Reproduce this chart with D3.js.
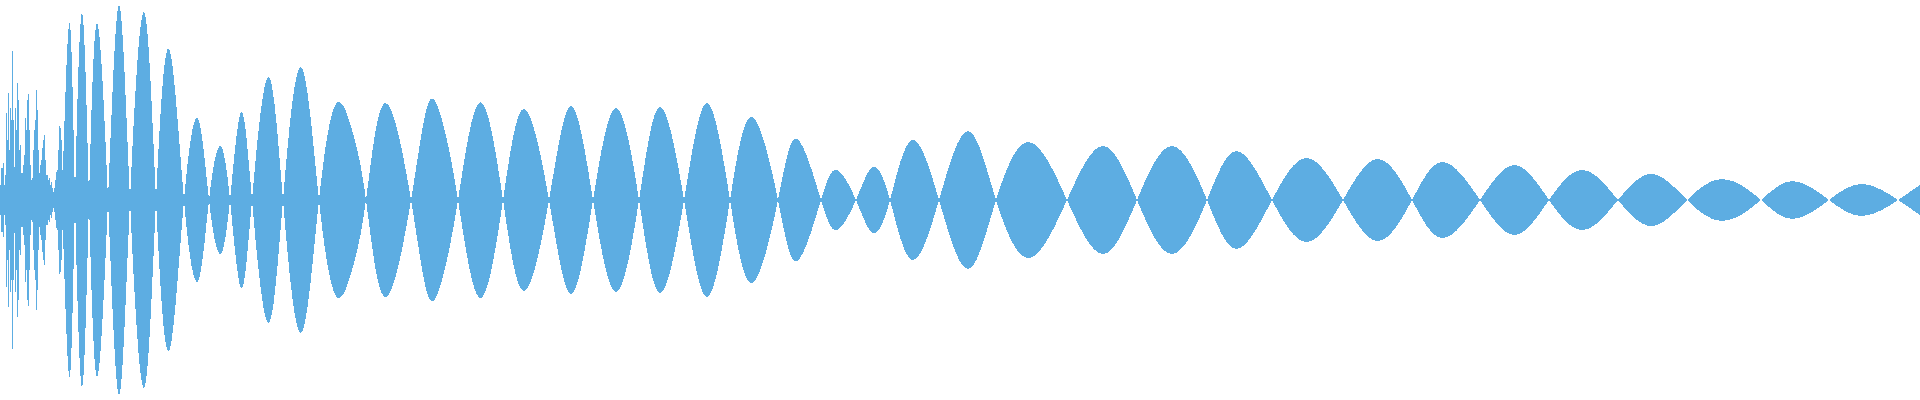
<!DOCTYPE html>
<html>
<head>
<meta charset="utf-8">
<script src="https://cdn.jsdelivr.net/npm/d3@7"></script>
<style>
  html, body { margin: 0; padding: 0; background: #ffffff; }
  svg { display: block; }
</style>
</head>
<body>
<svg id="chart" width="1920" height="400"></svg>
<script>
// Onset: per-sample amplitude (time 0..63)
const onsetAmp = [0.075, 0.16, 0.16, 0.185, 0.075, 0.125, 0.435, 0.30, 0.535, 0.25, 0.46, 0.40, 0.745, 0.40, 0.165, 0.46, 0.35, 0.585, 0.50, 0.25, 0.275, 0.135, 0.135, 0.175, 0.225, 0.41, 0.35, 0.50, 0.53, 0.35, 0.175, 0.10, 0.11, 0.25, 0.35, 0.40, 0.55, 0.45, 0.25, 0.135, 0.175, 0.20, 0.26, 0.30, 0.325, 0.20, 0.125, 0.125, 0.10, 0.11, 0.075, 0.09, 0.06, 0.04, 0.06, 0.10, 0.14, 0.15, 0.25, 0.37, 0.36, 0.30, 0.15, 0.05];

// Envelope lobes: zero crossings, peak times and peak amplitudes
const zeroTimes = [62, 75, 89, 108, 130, 156, 184, 209, 230, 252, 283, 319, 366, 411, 458, 503, 549, 593, 639, 684, 730, 778, 821, 856, 890, 939, 996, 1067, 1137, 1207, 1272, 1343, 1412, 1480, 1549, 1618, 1687, 1761, 1829, 1898];
const peakTimes = [69.5, 82, 97, 119, 144, 169, 198, 220, 241, 268, 301, 336, 385, 428, 480, 524, 571, 616, 660, 707, 752, 797, 837, 873, 912, 968, 1029, 1103, 1172, 1237, 1307, 1378, 1443, 1515, 1583, 1652, 1723, 1793, 1863];
const peakAmps = [0.885, 0.935, 0.885, 0.975, 0.94, 0.755, 0.405, 0.27, 0.44, 0.615, 0.665, 0.48, 0.485, 0.48, 0.49, 0.455, 0.47, 0.46, 0.465, 0.485, 0.415, 0.305, 0.15, 0.165, 0.30, 0.345, 0.29, 0.27, 0.27, 0.245, 0.21, 0.205, 0.19, 0.175, 0.15, 0.13, 0.105, 0.095, 0.08];

// Extra shape points inside irregular lobes
const shoulderTimes = [352, 442];
const shoulderAmps = [0.35, 0.40];

// Tail sample at the right edge
const tailTimes = [1920];
const tailAmps = [0.075];

const width = 1920, height = 400;
const svg = d3.select("#chart");

const x = d3.scaleLinear().domain([0, 1920]).range([0, width]);
const y = d3.scaleLinear().domain([-1, 1]).range([height, 0]);

const fill = "#5dade2";

// Onset section
const onsetData = onsetAmp.map((a, i) => ({ t: i, a }));
const onsetArea = d3.area()
  .x(d => x(d.t))
  .y0(d => y(-d.a))
  .y1(d => y(d.a))
  .curve(d3.curveStepAfter);

svg.append("path")
  .datum(onsetData)
  .attr("d", onsetArea)
  .attr("fill", fill)
  .attr("shape-rendering", "crispEdges");

// Envelope section: signed alternating lobes so crossings form an X
const pts = [];
zeroTimes.forEach(t => pts.push({ t, a: 0 }));
peakTimes.forEach((t, i) => pts.push({ t, a: peakAmps[i] }));
shoulderTimes.forEach((t, i) => pts.push({ t, a: shoulderAmps[i] }));
tailTimes.forEach((t, i) => pts.push({ t, a: tailAmps[i] }));
pts.sort((p, q) => p.t - q.t);
const lobeIndex = t => d3.bisectRight(zeroTimes, t) - 1;
pts.forEach(p => {
  if (p.a !== 0) {
    const k = lobeIndex(p.t);
    p.v = (k % 2 === 0 ? 1 : -1) * p.a;
  } else p.v = 0;
});

const lobeArea = d3.area()
  .x(d => x(d.t))
  .y0(d => y(-d.v))
  .y1(d => y(d.v))
  .curve(d3.curveNatural);

svg.append("path")
  .datum(pts)
  .attr("d", lobeArea)
  .attr("fill", fill)
  .attr("shape-rendering", "crispEdges");
</script>
</body>
</html>
